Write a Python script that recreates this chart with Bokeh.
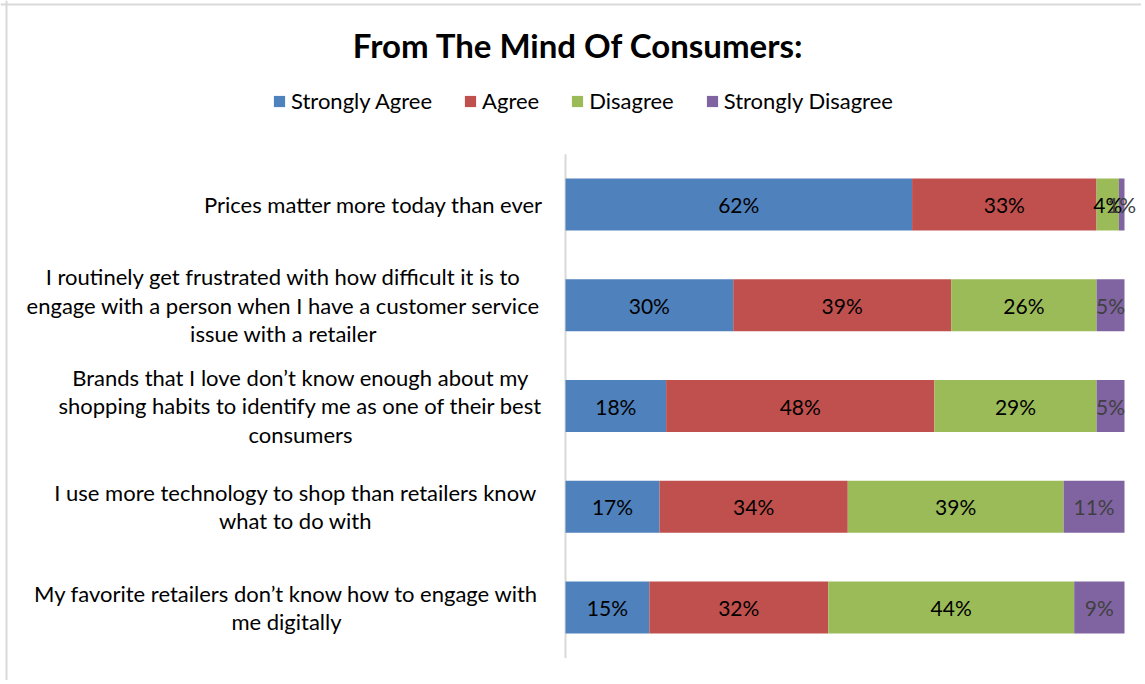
from bokeh.plotting import figure
from bokeh.models import ColumnDataSource, Range1d, Legend, LegendItem, Label, LabelSet, Span
from bokeh.embed import file_html
from bokeh.resources import INLINE
from bokeh.core.properties import value

# ---- data ----
statements = [
    "Prices matter more today than ever",
    "I routinely get frustrated with how difficult it is to\nengage with a person when I have a customer service\nissue with a retailer",
    "Brands that I love don\u2019t know enough about my\nshopping habits to identify me as one of their best\nconsumers",
    "I use more technology to shop than retailers know\nwhat to do with",
    "My favorite retailers don\u2019t know how to engage with\nme digitally",
]
series_names = ["Strongly Agree", "Agree", "Disagree", "Strongly Disagree"]
strongly_agree = [62, 30, 18, 17, 15]
agree = [33, 39, 48, 34, 32]
disagree = [4, 26, 29, 39, 44]
strongly_disagree = [1, 5, 5, 11, 9]
colors = ["#4F81BD", "#C0504D", "#9BBB59", "#8064A2"]
label_colors = ["#000000", "#000000", "#000000", "#404040"]
title_text = "From The Mind Of Consumers:"

FONT = "Lato"
W, H = 1141, 680
PX_PER_UNIT = 559.0       # width of the 100% bar in px
AXIS_X = 565              # canvas x of the category axis
ROW0_Y = 204              # canvas y of first row centre
ROW_STEP = 100.75         # px between rows

rows = list(range(len(statements)))
x_lo = (0 - AXIS_X) / PX_PER_UNIT
x_hi = (W - AXIS_X) / PX_PER_UNIT
y_top = (0 - ROW0_Y) / ROW_STEP
y_bot = (H - ROW0_Y) / ROW_STEP

p = figure(width=W, height=H, output_backend="svg", toolbar_location=None,
           x_range=Range1d(x_lo, x_hi), y_range=Range1d(y_bot, y_top),
           min_border=0)
p.axis.visible = False
p.grid.visible = False
p.outline_line_color = None
p.background_fill_color = "white"
p.border_fill_color = "white"

# chart-area border (left & top)
p.add_layout(Span(location=(6 - AXIS_X) / PX_PER_UNIT, dimension="height",
                  line_color="#D9D9D9", line_width=2))
p.add_layout(Span(location=(4 - ROW0_Y) / ROW_STEP, dimension="width",
                  line_color="#D9D9D9", line_width=2))

# vertical category axis line
p.segment(x0=[0], y0=[rows[0] - 0.5], x1=[0], y1=[rows[-1] + 0.5],
          line_color="#D9D9D9", line_width=2)

all_series = [strongly_agree, agree, disagree, strongly_disagree]
totals = [sum(s[i] for s in all_series) for i in rows]

items = []
cum = [0.0] * len(rows)
for name, vals, col, lcol in zip(series_names, all_series, colors, label_colors):
    left = list(cum)
    right = [c + v / t for c, v, t in zip(cum, vals, totals)]
    mid = [(a + b) / 2 for a, b in zip(left, right)]
    src = ColumnDataSource(dict(y=rows, left=left, right=right, mid=mid,
                                txt=["%d%%" % v for v in vals]))
    r = p.hbar(y="y", left="left", right="right", height=0.515, source=src,
               fill_color=col, line_color=None)
    items.append(LegendItem(label=name, renderers=[r]))
    p.add_layout(LabelSet(x="mid", y="y", text="txt", source=src, text_align="center",
                          text_baseline="middle", text_font=value(FONT),
                          text_font_size="21px", text_color=lcol))
    cum = right

# category labels (lines centred within a block right-aligned to the axis)
label_centre_px = [373, 283, 300, 295, 286]
lab_src = ColumnDataSource(dict(
    x=[(c - AXIS_X) / PX_PER_UNIT for c in label_centre_px], y=rows, text=statements))
p.text(x="x", y="y", text="text", source=lab_src, text_align="center",
       text_baseline="middle", text_font=value(FONT), text_font_size="22px",
       text_color="#000000", text_line_height=1.05)

legend = Legend(items=items, orientation="horizontal", location=(272, H - 103 - 11),
                label_text_font=FONT, label_text_font_size="22px", label_text_color="#000000",
                glyph_width=14, glyph_height=14, label_standoff=5, spacing=31,
                label_height=22, padding=0, margin=0, border_line_color=None,
                background_fill_alpha=0)
p.add_layout(legend, "center")

p.add_layout(Label(x=578, y=H - 44, x_units="screen", y_units="screen",
                   text=title_text, text_align="center", text_baseline="middle",
                   text_font=FONT, text_font_style="bold", text_font_size="33px",
                   text_color="#000000"))

open("out.html", "w").write(file_html(p, INLINE))
